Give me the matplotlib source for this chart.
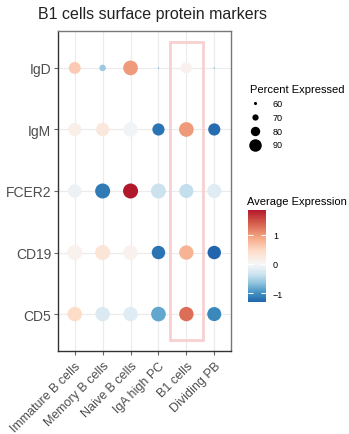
import numpy as np
import matplotlib
matplotlib.use("Agg")
import matplotlib.pyplot as plt
from matplotlib.colors import LinearSegmentedColormap, Normalize
from matplotlib.patches import Rectangle

plt.rcParams['font.family'] = ['Liberation Sans', 'DejaVu Sans']

# data
cell_types = ["Immature B cells", "Memory B cells", "Naive B cells",
              "IgA high PC", "B1 cells", "Dividing PB"]
markers = ["CD5", "CD19", "FCER2", "IgM", "IgD"]   # bottom -> top

pct_expressed = {
    "IgD":   [88, 71, 97, 52, 86, 52],
    "IgM":   [92, 93, 96, 89, 97, 89],
    "FCER2": [93, 98, 98, 98, 95, 95],
    "CD19":  [98, 98, 96, 93, 96, 93],
    "CD5":   [96, 96, 96, 97, 96, 95],
}
avg_expr = {
    "IgD":   [0.6, -0.6, 1.0, -0.9, 0.1, -0.9],
    "IgM":   [0.15, 0.25, -0.05, -1.2, 1.0, -1.25],
    "FCER2": [-0.1, -1.15, 1.86, -0.35, -0.4, -0.2],
    "CD19":  [0.1, 0.3, 0.1, -1.2, 0.8, -1.31],
    "CD5":   [0.45, -0.25, -0.2, -0.85, 1.3, -1.05],
}
size_breaks = [60, 70, 80, 90]
highlight = "B1 cells"

vmin, vmax = -1.31, 1.86
blues = ["#2166AC", "#4393C3", "#92C5DE", "#D1E5F0"]
reds = ["#FDDBC7", "#F4A582", "#D6604D", "#B2182B"]
mid = -vmin / (vmax - vmin)
nodes = [(mid * k / 4, c) for k, c in enumerate(blues)] + [(mid, "#F7F7F7")] + \
        [(mid + (1 - mid) * (k + 1) / 4, c) for k, c in enumerate(reds)]
cmap = LinearSegmentedColormap.from_list("rdbu", nodes)
norm = Normalize(vmin=vmin, vmax=vmax)


def dot_size(p):
    # diameter in px grows linearly with percent, returned as points^2
    d = np.maximum((np.asarray(p, float) - 50) * 15 / 48, 1.2)
    return (d * 0.72) ** 2


fig = plt.figure(figsize=(3.49, 4.35), dpi=100)
ax = fig.add_axes([58 / 349, 1 - 352 / 435, 173 / 349, 320 / 435])

xs, ys, ss, cs = [], [], [], []
for j, m in enumerate(markers):
    for i, ct in enumerate(cell_types):
        xs.append(i + 1)
        ys.append(j + 1)
        ss.append(pct_expressed[m][i])
        cs.append(avg_expr[m][i])

sc = ax.scatter(xs, ys, s=dot_size(ss), c=cs, cmap=cmap, norm=norm,
                linewidths=0, zorder=3)

hx = cell_types.index(highlight) + 1
ax.add_patch(Rectangle((hx - 0.58, 0.58), 1.16, len(markers) - 0.16,
                       fill=False, edgecolor="#F8D0D0", lw=2, zorder=2))

ax.set_xlim(0.4, len(cell_types) + 0.6)
ax.set_ylim(0.4, len(markers) + 0.6)
ax.set_xticks(range(1, len(cell_types) + 1))
ax.set_xticklabels(cell_types, rotation=45, ha="right", rotation_mode="anchor",
                   fontsize=9, color="#4D4D4D")
ax.set_yticks(range(1, len(markers) + 1))
ax.set_yticklabels(markers, fontsize=10, color="#4D4D4D")
ax.grid(True, color="#EBEBEB", lw=0.8, zorder=0)
ax.set_axisbelow(True)
ax.tick_params(length=3, width=0.8, color="#666666", pad=2)
ax.tick_params(axis="x", pad=3)
for side in ["left", "bottom"]:
    ax.spines[side].set_color("#333333")
    ax.spines[side].set_linewidth(1.0)
for side in ["top", "right"]:
    ax.spines[side].set_color("#777777")
    ax.spines[side].set_linewidth(1.0)

fig.text(38 / 349, 1 - 14 / 435, "B1 cells surface protein markers",
         fontsize=11.5, color="#222222", va="center", ha="left")

# size legend
handles = [ax.scatter([], [], s=dot_size(p), c="black", linewidths=0)
           for p in size_breaks]
leg = fig.legend(handles, [str(p) for p in size_breaks], title="Percent Expressed",
                 loc="upper left", bbox_to_anchor=(246 / 349, 1 - 81 / 435),
                 frameon=False, fontsize=6.5, title_fontsize=8,
                 labelspacing=0.55, handletextpad=1.3, borderaxespad=0,
                 handlelength=1.2, alignment="left")

# colour bar
cax = fig.add_axes([248 / 349, 1 - 303 / 435, 18 / 349, 92 / 435])
cb = fig.colorbar(sc, cax=cax, ticks=[-1, 0, 1])
cb.outline.set_visible(False)
cax.tick_params(axis="y", direction="in", color="white", length=3.5, width=0.8,
                left=True, right=True, labelsize=6.5, pad=5)
cax.set_yticklabels(["\u22121", "0", "1"])
fig.text(247 / 349, 1 - 202 / 435, "Average Expression", fontsize=8,
         ha="left", va="center")

fig.savefig("out.png", dpi=100)
